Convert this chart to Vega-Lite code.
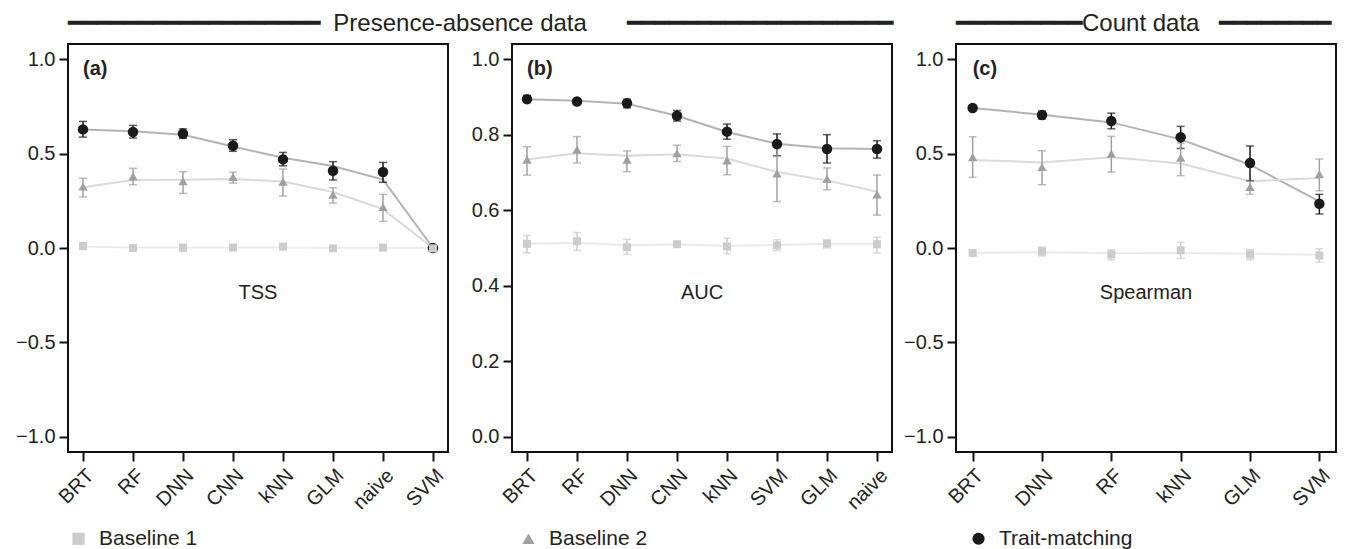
{
  "$schema": "https://vega.github.io/schema/vega-lite/v6.json",
  "background": "white",
  "padding": {"left": 14, "top": 11, "right": 4, "bottom": 2},
  "bounds": "flush",
  "spacing": 64,
  "resolve": {"legend": {"shape": "independent", "fill": "independent"}},
  "config": {
    "font": "Liberation Sans",
    "view": {"stroke": "#111", "strokeWidth": 2},
    "axis": {"grid": false, "domain": false, "tickColor": "#111", "tickWidth": 2, "tickSize": 9, "labelFontSize": 20, "labelColor": "#222", "labelPadding": 4},
    "title": {"fontSize": 24, "fontWeight": "normal", "color": "#222", "anchor": "start", "frame": "group", "offset": 8},
    "legend": {"labelFontSize": 21, "labelColor": "#222", "symbolSize": 150, "symbolStrokeWidth": 0}
  },
  "datasets": {
    "d": [
      {"panel":"a","model":"BRT","idx":1,"series":"Trait-matching","mean":0.628,"lo":0.587,"hi":0.670,"fit":0.628},
      {"panel":"a","model":"RF","idx":2,"series":"Trait-matching","mean":0.614,"lo":0.582,"hi":0.649,"fit":0.618},
      {"panel":"a","model":"DNN","idx":3,"series":"Trait-matching","mean":0.605,"lo":0.580,"hi":0.631,"fit":0.600},
      {"panel":"a","model":"CNN","idx":4,"series":"Trait-matching","mean":0.541,"lo":0.512,"hi":0.573,"fit":0.537},
      {"panel":"a","model":"kNN","idx":5,"series":"Trait-matching","mean":0.469,"lo":0.435,"hi":0.506,"fit":0.478},
      {"panel":"a","model":"GLM","idx":6,"series":"Trait-matching","mean":0.409,"lo":0.360,"hi":0.457,"fit":0.434},
      {"panel":"a","model":"naive","idx":7,"series":"Trait-matching","mean":0.402,"lo":0.348,"hi":0.453,"fit":0.362},
      {"panel":"a","model":"SVM","idx":8,"series":"Trait-matching","mean":0.000,"lo":-0.004,"hi":0.004,"fit":0.000},
      {"panel":"a","model":"BRT","idx":1,"series":"Baseline 2","mean":0.326,"lo":0.270,"hi":0.369,"fit":0.322},
      {"panel":"a","model":"RF","idx":2,"series":"Baseline 2","mean":0.379,"lo":0.335,"hi":0.422,"fit":0.360},
      {"panel":"a","model":"DNN","idx":3,"series":"Baseline 2","mean":0.353,"lo":0.289,"hi":0.404,"fit":0.361},
      {"panel":"a","model":"CNN","idx":4,"series":"Baseline 2","mean":0.376,"lo":0.344,"hi":0.402,"fit":0.365},
      {"panel":"a","model":"kNN","idx":5,"series":"Baseline 2","mean":0.351,"lo":0.275,"hi":0.418,"fit":0.352},
      {"panel":"a","model":"GLM","idx":6,"series":"Baseline 2","mean":0.282,"lo":0.238,"hi":0.319,"fit":0.296},
      {"panel":"a","model":"naive","idx":7,"series":"Baseline 2","mean":0.217,"lo":0.141,"hi":0.284,"fit":0.206},
      {"panel":"a","model":"SVM","idx":8,"series":"Baseline 2","mean":0.000,"lo":-0.004,"hi":0.004,"fit":0.000},
      {"panel":"a","model":"BRT","idx":1,"series":"Baseline 1","mean":0.011,"lo":-0.008,"hi":0.022,"fit":0.006},
      {"panel":"a","model":"RF","idx":2,"series":"Baseline 1","mean":0.000,"lo":-0.006,"hi":0.006,"fit":0.003},
      {"panel":"a","model":"DNN","idx":3,"series":"Baseline 1","mean":0.002,"lo":-0.018,"hi":0.016,"fit":0.002},
      {"panel":"a","model":"CNN","idx":4,"series":"Baseline 1","mean":0.002,"lo":-0.006,"hi":0.010,"fit":0.002},
      {"panel":"a","model":"kNN","idx":5,"series":"Baseline 1","mean":0.007,"lo":-0.004,"hi":0.016,"fit":0.003},
      {"panel":"a","model":"GLM","idx":6,"series":"Baseline 1","mean":-0.002,"lo":-0.008,"hi":0.006,"fit":0.001},
      {"panel":"a","model":"naive","idx":7,"series":"Baseline 1","mean":0.002,"lo":-0.006,"hi":0.010,"fit":0.001},
      {"panel":"a","model":"SVM","idx":8,"series":"Baseline 1","mean":-0.002,"lo":-0.006,"hi":0.004,"fit":0.000},

      {"panel":"b","model":"BRT","idx":1,"series":"Trait-matching","mean":0.894,"lo":0.885,"hi":0.904,"fit":0.894},
      {"panel":"b","model":"RF","idx":2,"series":"Trait-matching","mean":0.888,"lo":0.881,"hi":0.895,"fit":0.890},
      {"panel":"b","model":"DNN","idx":3,"series":"Trait-matching","mean":0.883,"lo":0.871,"hi":0.894,"fit":0.882},
      {"panel":"b","model":"CNN","idx":4,"series":"Trait-matching","mean":0.850,"lo":0.836,"hi":0.864,"fit":0.850},
      {"panel":"b","model":"kNN","idx":5,"series":"Trait-matching","mean":0.808,"lo":0.788,"hi":0.828,"fit":0.807},
      {"panel":"b","model":"SVM","idx":6,"series":"Trait-matching","mean":0.775,"lo":0.744,"hi":0.802,"fit":0.776},
      {"panel":"b","model":"GLM","idx":7,"series":"Trait-matching","mean":0.762,"lo":0.725,"hi":0.800,"fit":0.764},
      {"panel":"b","model":"naive","idx":8,"series":"Trait-matching","mean":0.762,"lo":0.738,"hi":0.784,"fit":0.762},
      {"panel":"b","model":"BRT","idx":1,"series":"Baseline 2","mean":0.734,"lo":0.693,"hi":0.768,"fit":0.734},
      {"panel":"b","model":"RF","idx":2,"series":"Baseline 2","mean":0.760,"lo":0.725,"hi":0.795,"fit":0.751},
      {"panel":"b","model":"DNN","idx":3,"series":"Baseline 2","mean":0.734,"lo":0.702,"hi":0.757,"fit":0.744},
      {"panel":"b","model":"CNN","idx":4,"series":"Baseline 2","mean":0.751,"lo":0.729,"hi":0.772,"fit":0.748},
      {"panel":"b","model":"kNN","idx":5,"series":"Baseline 2","mean":0.732,"lo":0.694,"hi":0.769,"fit":0.737},
      {"panel":"b","model":"SVM","idx":6,"series":"Baseline 2","mean":0.697,"lo":0.623,"hi":0.767,"fit":0.701},
      {"panel":"b","model":"GLM","idx":7,"series":"Baseline 2","mean":0.683,"lo":0.654,"hi":0.712,"fit":0.679},
      {"panel":"b","model":"naive","idx":8,"series":"Baseline 2","mean":0.642,"lo":0.587,"hi":0.693,"fit":0.649},
      {"panel":"b","model":"BRT","idx":1,"series":"Baseline 1","mean":0.511,"lo":0.487,"hi":0.533,"fit":0.511},
      {"panel":"b","model":"RF","idx":2,"series":"Baseline 1","mean":0.518,"lo":0.494,"hi":0.541,"fit":0.514},
      {"panel":"b","model":"DNN","idx":3,"series":"Baseline 1","mean":0.502,"lo":0.483,"hi":0.523,"fit":0.507},
      {"panel":"b","model":"CNN","idx":4,"series":"Baseline 1","mean":0.510,"lo":0.505,"hi":0.515,"fit":0.509},
      {"panel":"b","model":"kNN","idx":5,"series":"Baseline 1","mean":0.504,"lo":0.485,"hi":0.526,"fit":0.506},
      {"panel":"b","model":"SVM","idx":6,"series":"Baseline 1","mean":0.507,"lo":0.493,"hi":0.522,"fit":0.508},
      {"panel":"b","model":"GLM","idx":7,"series":"Baseline 1","mean":0.512,"lo":0.500,"hi":0.521,"fit":0.511},
      {"panel":"b","model":"naive","idx":8,"series":"Baseline 1","mean":0.510,"lo":0.487,"hi":0.529,"fit":0.511},

      {"panel":"c","model":"BRT","idx":1,"series":"Trait-matching","mean":0.741,"lo":0.732,"hi":0.750,"fit":0.741},
      {"panel":"c","model":"DNN","idx":2,"series":"Trait-matching","mean":0.704,"lo":0.683,"hi":0.725,"fit":0.706},
      {"panel":"c","model":"RF","idx":3,"series":"Trait-matching","mean":0.672,"lo":0.631,"hi":0.714,"fit":0.665},
      {"panel":"c","model":"kNN","idx":4,"series":"Trait-matching","mean":0.586,"lo":0.527,"hi":0.644,"fit":0.575},
      {"panel":"c","model":"GLM","idx":5,"series":"Trait-matching","mean":0.450,"lo":0.356,"hi":0.540,"fit":0.441},
      {"panel":"c","model":"SVM","idx":6,"series":"Trait-matching","mean":0.234,"lo":0.180,"hi":0.284,"fit":0.247},
      {"panel":"c","model":"BRT","idx":1,"series":"Baseline 2","mean":0.481,"lo":0.374,"hi":0.589,"fit":0.466},
      {"panel":"c","model":"DNN","idx":2,"series":"Baseline 2","mean":0.429,"lo":0.335,"hi":0.515,"fit":0.453},
      {"panel":"c","model":"RF","idx":3,"series":"Baseline 2","mean":0.499,"lo":0.402,"hi":0.591,"fit":0.481},
      {"panel":"c","model":"kNN","idx":4,"series":"Baseline 2","mean":0.478,"lo":0.383,"hi":0.556,"fit":0.447},
      {"panel":"c","model":"GLM","idx":5,"series":"Baseline 2","mean":0.323,"lo":0.284,"hi":0.354,"fit":0.354},
      {"panel":"c","model":"SVM","idx":6,"series":"Baseline 2","mean":0.390,"lo":0.303,"hi":0.471,"fit":0.370},
      {"panel":"c","model":"BRT","idx":1,"series":"Baseline 1","mean":-0.026,"lo":-0.034,"hi":-0.018,"fit":-0.026},
      {"panel":"c","model":"DNN","idx":2,"series":"Baseline 1","mean":-0.018,"lo":-0.042,"hi":0.005,"fit":-0.022},
      {"panel":"c","model":"RF","idx":3,"series":"Baseline 1","mean":-0.034,"lo":-0.062,"hi":-0.009,"fit":-0.028},
      {"panel":"c","model":"kNN","idx":4,"series":"Baseline 1","mean":-0.012,"lo":-0.054,"hi":0.030,"fit":-0.026},
      {"panel":"c","model":"GLM","idx":5,"series":"Baseline 1","mean":-0.034,"lo":-0.062,"hi":-0.008,"fit":-0.030},
      {"panel":"c","model":"SVM","idx":6,"series":"Baseline 1","mean":-0.039,"lo":-0.076,"hi":-0.004,"fit":-0.036}
    ],
    "labels": [
      {"panel":"a","model":"BRT","tag":"(a)","ty":0.95,"metric":"TSS","my":-0.24},
      {"panel":"b","model":"BRT","tag":"(b)","ty":0.975,"metric":"AUC","my":0.38},
      {"panel":"c","model":"BRT","tag":"(c)","ty":0.95,"metric":"Spearman","my":-0.24}
    ]
  },
  "hconcat": [
    {
      "title": {"text": "━━━━━━━━━━━━━━━━━━\u00a0\u00a0Presence-absence data\u00a0\u00a0\u00a0\u00a0\u00a0\u00a0━━━━━━━━━━━━━━━━━━━"},
      "width": 380, "height": 408,
      "layer": [
        {"data": {"name": "d"}, "transform": [{"filter": "datum.panel === 'a'"}],
         "mark": {"type": "line", "strokeWidth": 2},
         "encoding": {
           "x": {"field": "model", "type": "ordinal", "title": null, "scale": {"type": "point", "domain": ["BRT","RF","DNN","CNN","kNN","GLM","naive","SVM"], "padding": 0.3}, "axis": {"labelAngle": -45}},
           "y": {"field": "fit", "type": "quantitative", "title": null, "scale": {"domain": [-1.08, 1.08], "nice": false, "zero": false}, "axis": {"values": [-1, -0.5, 0, 0.5, 1], "format": ".1f"}},
           "stroke": {"field": "series", "type": "nominal", "scale": {"domain": ["Baseline 1","Baseline 2","Trait-matching"], "range": ["#ebebeb","#dadada","#b3b3b3"]}, "legend": null},
           "order": {"field": "idx", "type": "quantitative"}
         }},
        {"data": {"name": "d"}, "transform": [{"filter": "datum.panel === 'a'"}],
         "mark": {"type": "errorbar", "ticks": {"size": 8}, "thickness": 1.5},
         "encoding": {
           "x": {"field": "model", "type": "ordinal", "title": null},
           "y": {"field": "lo", "type": "quantitative", "title": null},
           "y2": {"field": "hi"},
           "color": {"field": "series", "type": "nominal", "scale": {"domain": ["Baseline 1","Baseline 2","Trait-matching"], "range": ["#cccccc","#a0a0a0","#1a1a1a"]}, "legend": null}
         }},
        {"data": {"name": "d"}, "transform": [{"filter": "datum.panel === 'a'"}],
         "mark": {"type": "point", "filled": true, "opacity": 1},
         "encoding": {
           "x": {"field": "model", "type": "ordinal", "title": null},
           "y": {"field": "mean", "type": "quantitative", "title": null},
           "size": {"field": "series", "type": "nominal", "scale": {"domain": ["Baseline 1","Baseline 2","Trait-matching"], "range": [64, 110, 66]}, "legend": null},
           "shape": {"field": "series", "type": "nominal", "scale": {"domain": ["Baseline 1","Baseline 2","Trait-matching"], "range": ["square","triangle-up","circle"]}, "legend": {"title": null, "orient": "none", "legendX": 0, "legendY": 484, "direction": "horizontal", "columnPadding": 285, "gridAlign": "all", "labelOffset": 10, "padding": 0}},
           "fill": {"field": "series", "type": "nominal", "scale": {"domain": ["Baseline 1","Baseline 2","Trait-matching"], "range": ["#cccccc","#a0a0a0","#1a1a1a"]}, "legend": {"title": null, "orient": "none", "legendX": 0, "legendY": 484, "direction": "horizontal", "columnPadding": 285, "gridAlign": "all", "labelOffset": 10, "padding": 0}}
         }},
        {"data": {"name": "labels"}, "transform": [{"filter": "datum.panel === 'a'"}],
         "mark": {"type": "text", "align": "left", "baseline": "middle", "fontSize": 20, "fontWeight": "bold", "color": "#222"},
         "encoding": {"x": {"field": "model", "type": "ordinal", "title": null}, "y": {"field": "ty", "type": "quantitative", "title": null}, "text": {"field": "tag"}}},
        {"data": {"name": "labels"}, "transform": [{"filter": "datum.panel === 'a'"}],
         "mark": {"type": "text", "align": "center", "baseline": "middle", "fontSize": 20, "color": "#222"},
         "encoding": {"y": {"field": "my", "type": "quantitative", "title": null}, "text": {"field": "metric"}}}
      ]
    },
    {
      "width": 380, "height": 408,
      "layer": [
        {"data": {"name": "d"}, "transform": [{"filter": "datum.panel === 'b'"}],
         "mark": {"type": "line", "strokeWidth": 2},
         "encoding": {
           "x": {"field": "model", "type": "ordinal", "title": null, "scale": {"type": "point", "domain": ["BRT","RF","DNN","CNN","kNN","SVM","GLM","naive"], "padding": 0.3}, "axis": {"labelAngle": -45}},
           "y": {"field": "fit", "type": "quantitative", "title": null, "scale": {"domain": [-0.04, 1.04], "nice": false, "zero": false}, "axis": {"values": [0, 0.2, 0.4, 0.6, 0.8, 1], "format": ".1f"}},
           "stroke": {"field": "series", "type": "nominal", "scale": {"domain": ["Baseline 1","Baseline 2","Trait-matching"], "range": ["#ebebeb","#dadada","#b3b3b3"]}, "legend": null},
           "order": {"field": "idx", "type": "quantitative"}
         }},
        {"data": {"name": "d"}, "transform": [{"filter": "datum.panel === 'b'"}],
         "mark": {"type": "errorbar", "ticks": {"size": 8}, "thickness": 1.5},
         "encoding": {
           "x": {"field": "model", "type": "ordinal", "title": null},
           "y": {"field": "lo", "type": "quantitative", "title": null},
           "y2": {"field": "hi"},
           "color": {"field": "series", "type": "nominal", "scale": {"domain": ["Baseline 1","Baseline 2","Trait-matching"], "range": ["#cccccc","#a0a0a0","#1a1a1a"]}, "legend": null}
         }},
        {"data": {"name": "d"}, "transform": [{"filter": "datum.panel === 'b'"}],
         "mark": {"type": "point", "filled": true, "opacity": 1},
         "encoding": {
           "x": {"field": "model", "type": "ordinal", "title": null},
           "y": {"field": "mean", "type": "quantitative", "title": null},
           "size": {"field": "series", "type": "nominal", "scale": {"domain": ["Baseline 1","Baseline 2","Trait-matching"], "range": [64, 110, 66]}, "legend": null},
           "shape": {"field": "series", "type": "nominal", "scale": {"domain": ["Baseline 1","Baseline 2","Trait-matching"], "range": ["square","triangle-up","circle"]}, "legend": null},
           "fill": {"field": "series", "type": "nominal", "scale": {"domain": ["Baseline 1","Baseline 2","Trait-matching"], "range": ["#cccccc","#a0a0a0","#1a1a1a"]}, "legend": null}
         }},
        {"data": {"name": "labels"}, "transform": [{"filter": "datum.panel === 'b'"}],
         "mark": {"type": "text", "align": "left", "baseline": "middle", "fontSize": 20, "fontWeight": "bold", "color": "#222"},
         "encoding": {"x": {"field": "model", "type": "ordinal", "title": null}, "y": {"field": "ty", "type": "quantitative", "title": null}, "text": {"field": "tag"}}},
        {"data": {"name": "labels"}, "transform": [{"filter": "datum.panel === 'b'"}],
         "mark": {"type": "text", "align": "center", "baseline": "middle", "fontSize": 20, "color": "#222"},
         "encoding": {"y": {"field": "my", "type": "quantitative", "title": null}, "text": {"field": "metric"}}}
      ]
    },
    {
      "title": {"text": "━━━━━━━━━Count data\u00a0\u00a0\u00a0━━━━━━━━"},
      "width": 380, "height": 408,
      "layer": [
        {"data": {"name": "d"}, "transform": [{"filter": "datum.panel === 'c'"}],
         "mark": {"type": "line", "strokeWidth": 2},
         "encoding": {
           "x": {"field": "model", "type": "ordinal", "title": null, "scale": {"type": "point", "domain": ["BRT","DNN","RF","kNN","GLM","SVM"], "padding": 0.24}, "axis": {"labelAngle": -45}},
           "y": {"field": "fit", "type": "quantitative", "title": null, "scale": {"domain": [-1.08, 1.08], "nice": false, "zero": false}, "axis": {"values": [-1, -0.5, 0, 0.5, 1], "format": ".1f"}},
           "stroke": {"field": "series", "type": "nominal", "scale": {"domain": ["Baseline 1","Baseline 2","Trait-matching"], "range": ["#ebebeb","#dadada","#b3b3b3"]}, "legend": null},
           "order": {"field": "idx", "type": "quantitative"}
         }},
        {"data": {"name": "d"}, "transform": [{"filter": "datum.panel === 'c'"}],
         "mark": {"type": "errorbar", "ticks": {"size": 8}, "thickness": 1.5},
         "encoding": {
           "x": {"field": "model", "type": "ordinal", "title": null},
           "y": {"field": "lo", "type": "quantitative", "title": null},
           "y2": {"field": "hi"},
           "color": {"field": "series", "type": "nominal", "scale": {"domain": ["Baseline 1","Baseline 2","Trait-matching"], "range": ["#cccccc","#a0a0a0","#1a1a1a"]}, "legend": null}
         }},
        {"data": {"name": "d"}, "transform": [{"filter": "datum.panel === 'c'"}],
         "mark": {"type": "point", "filled": true, "opacity": 1},
         "encoding": {
           "x": {"field": "model", "type": "ordinal", "title": null},
           "y": {"field": "mean", "type": "quantitative", "title": null},
           "size": {"field": "series", "type": "nominal", "scale": {"domain": ["Baseline 1","Baseline 2","Trait-matching"], "range": [64, 110, 66]}, "legend": null},
           "shape": {"field": "series", "type": "nominal", "scale": {"domain": ["Baseline 1","Baseline 2","Trait-matching"], "range": ["square","triangle-up","circle"]}, "legend": null},
           "fill": {"field": "series", "type": "nominal", "scale": {"domain": ["Baseline 1","Baseline 2","Trait-matching"], "range": ["#cccccc","#a0a0a0","#1a1a1a"]}, "legend": null}
         }},
        {"data": {"name": "labels"}, "transform": [{"filter": "datum.panel === 'c'"}],
         "mark": {"type": "text", "align": "left", "baseline": "middle", "fontSize": 20, "fontWeight": "bold", "color": "#222"},
         "encoding": {"x": {"field": "model", "type": "ordinal", "title": null}, "y": {"field": "ty", "type": "quantitative", "title": null}, "text": {"field": "tag"}}},
        {"data": {"name": "labels"}, "transform": [{"filter": "datum.panel === 'c'"}],
         "mark": {"type": "text", "align": "center", "baseline": "middle", "fontSize": 20, "color": "#222"},
         "encoding": {"y": {"field": "my", "type": "quantitative", "title": null}, "text": {"field": "metric"}}}
      ]
    }
  ]
}
